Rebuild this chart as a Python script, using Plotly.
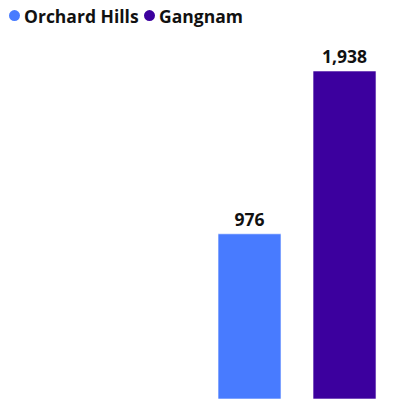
import plotly.graph_objects as go

series_names = ["Orchard Hills", "Gangnam"]
series_values = [976, 1938]
series_colors = ["#487BFF", "#3C009E"]
category = ["Total"]

W, H = 402, 413
T, B = 40, 14
PH = H - T - B  # plot height in px
FONT = "Open Sans"

fig = go.Figure()
for name, val, col in zip(series_names, series_values, series_colors):
    fig.add_trace(go.Bar(
        x=category, y=[val], name=name,
        marker=dict(color=col, line=dict(color="rgba(255,255,255,0.6)", width=1)),
        text=[f"{val:,}"], textposition="outside",
        textfont=dict(family=FONT, size=17.5, color="#111111", weight="bold"),
        cliponaxis=False, showlegend=False, hoverinfo="skip",
    ))

# custom legend (circle + label), positioned in pixels above plot area
def py(p):
    return (H - B - p) / PH

legend_items = [(14.5, 21.5), (149.5, 156.5)]
shapes, annotations = [], []
for (cx, tx), name, col in zip(legend_items, series_names, series_colors):
    shapes.append(dict(type="circle", xref="paper", yref="paper",
                       xsizemode="pixel", ysizemode="pixel",
                       xanchor=cx / W, yanchor=py(15.6),
                       x0=-5.5, x1=5.5, y0=-5.5, y1=5.5,
                       fillcolor=col, line=dict(width=0)))
    annotations.append(dict(text=name, xref="paper", yref="paper",
                            x=tx / W, y=py(15.6), xanchor="left", yanchor="middle",
                            showarrow=False,
                            font=dict(family=FONT, size=17.5, color="#111111", weight="bold")))

fig.update_layout(
    width=W, height=H,
    margin=dict(l=0, r=0, t=T, b=B),
    barmode="group", bargap=0.2, bargroupgap=0.337,
    plot_bgcolor="white", paper_bgcolor="white",
    showlegend=False,
    shapes=shapes, annotations=annotations,
    xaxis=dict(type="category", range=[-1.2505, 0.442], visible=False, fixedrange=True),
    yaxis=dict(range=[0, 2121], visible=False, fixedrange=True),
)
fig.write_html("out.html", config={"displayModeBar": False},
               post_script="document.body.style.margin='0';")
